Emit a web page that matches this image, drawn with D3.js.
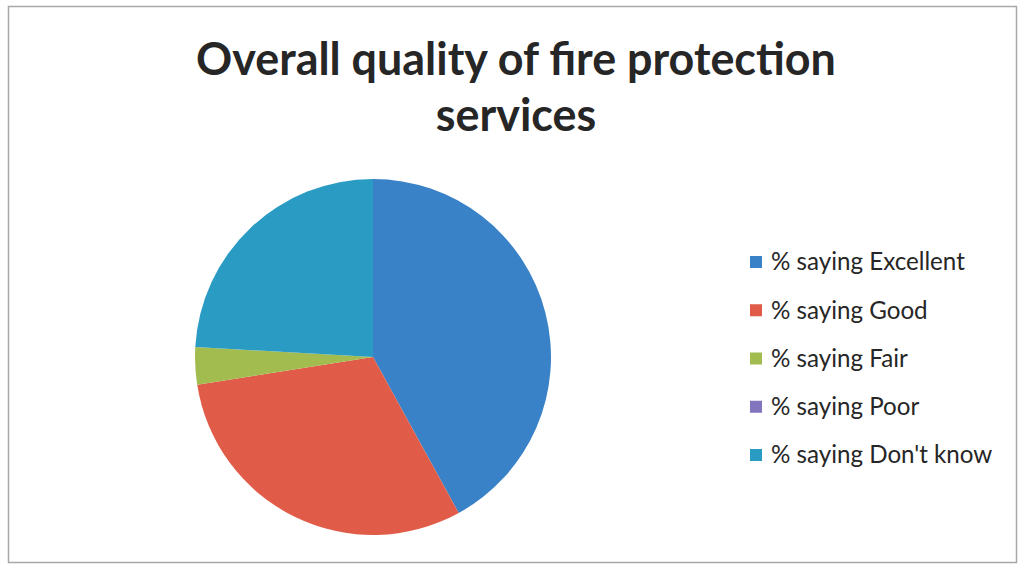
<!DOCTYPE html>
<html><head><meta charset="utf-8">
<script src="https://cdn.jsdelivr.net/npm/d3@7/dist/d3.min.js"></script>
<style>body{margin:0;background:#fff}svg{display:block}</style>
</head><body>
<svg id="c" width="1021" height="565"></svg>
<script>
const titleLines = ["Overall quality of fire protection", "services"];
const categories = ["% saying Excellent", "% saying Good", "% saying Fair", "% saying Poor", "% saying Don't know"];
const values = [42.0, 30.5, 3.4, 0, 24.1];
const colors = ["#3a82c8", "#e05c48", "#a2bc50", "#8275bd", "#2a9cc4"];

const svg = d3.select("#c");
const W = 1021, H = 565;
svg.append("rect").attr("width", W).attr("height", H).attr("fill", "#fff");
svg.append("rect").attr("x", 8.5).attr("y", 6.5).attr("width", 1008).attr("height", 556)
  .attr("fill", "none").attr("stroke", "#a8a8a8").attr("stroke-width", 1.5);

const fontFam = "Lato, 'Open Sans', 'DejaVu Sans', sans-serif";
// title
const t1 = svg.append("text").attr("x", 516).attr("y", 75).attr("text-anchor", "middle")
  .attr("font-family", fontFam).attr("font-weight", "bold").attr("font-size", 40).attr("fill", "#262626")
  .text(titleLines[0]);
const w1 = t1.node().getComputedTextLength();
const fs = 40 * 640 / w1;
t1.attr("font-size", fs);
svg.append("text").attr("x", 516).attr("y", 131).attr("text-anchor", "middle")
  .attr("font-family", fontFam).attr("font-weight", "bold").attr("font-size", fs).attr("fill", "#262626")
  .text(titleLines[1]);

// pie
const cx = 373, cy = 357, r = 178;
const pie = d3.pie().sort(null).value(d => d)(values);
const arc = d3.arc().innerRadius(0).outerRadius(r);
const g = svg.append("g").attr("transform", `translate(${cx},${cy})`);
g.selectAll("path").data(pie).join("path")
  .attr("d", arc).attr("fill", (d, i) => colors[i]);

// legend
const lg = svg.append("g");
const rowY = d3.scalePoint().domain(d3.range(categories.length)).range([262, 455]);
const items = lg.selectAll("g").data(categories).join("g")
  .attr("transform", (d, i) => `translate(750,${rowY(i)})`);
items.append("rect").attr("x", 0).attr("y", -6).attr("width", 12).attr("height", 12)
  .attr("fill", (d, i) => colors[i]);
const lt = items.append("text").attr("x", 21).attr("y", 0).attr("dy", "0.35em")
  .attr("font-family", fontFam).attr("font-size", 22).attr("fill", "#262626").text(d => d);
const lw = lt.nodes()[0].getComputedTextLength();
lt.attr("font-size", 22 * 194 / lw);
</script>
</body></html>
